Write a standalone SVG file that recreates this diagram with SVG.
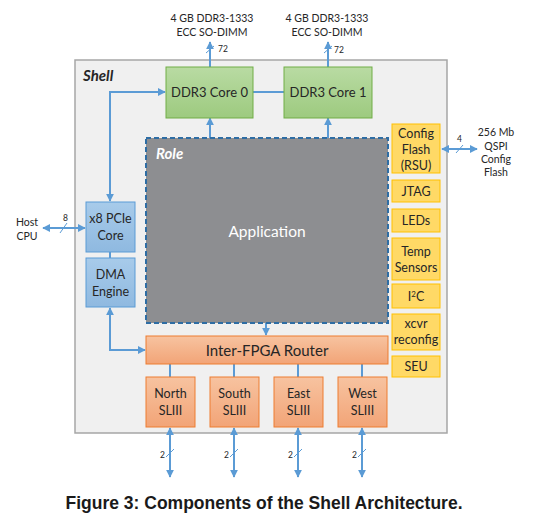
<svg xmlns="http://www.w3.org/2000/svg" width="535" height="523" viewBox="0 0 535 523">
<style>
text{font-family:Lato,"Open Sans","Liberation Sans",sans-serif;fill:#262626}
.c{text-anchor:middle}
.lbl{font-size:10.5px}
.sm{font-size:8.5px}
.box{font-size:12.5px}
.g{fill:#a9d18e;stroke:#70ad47;stroke-width:1}
.b{fill:#9dc3e6;stroke:#5b9bd5;stroke-width:1}
.o{fill:#f4b183;stroke:#ed7d31;stroke-width:1}
.y{fill:#ffd966;stroke:#ffc000;stroke-width:1}
.ln{stroke:#5b9bd5;stroke-width:2;fill:none}
.sl{stroke:#5b9bd5;stroke-width:1}
</style>
<defs>
<marker id="ah" viewBox="0 0 10 10" refX="9" refY="5" markerWidth="4" markerHeight="4" orient="auto-start-reverse" markerUnits="strokeWidth">
<path d="M0,0 L10,5 L0,10 z" fill="#5b9bd5"/>
</marker>
<linearGradient id="gg" x1="0" y1="0" x2="0" y2="1"><stop offset="0" stop-color="#b9dba3"/><stop offset="1" stop-color="#9dca7f"/></linearGradient>
<linearGradient id="bg" x1="0" y1="0" x2="0" y2="1"><stop offset="0" stop-color="#a8cbea"/><stop offset="1" stop-color="#8fb9e0"/></linearGradient>
<linearGradient id="og" x1="0" y1="0" x2="0" y2="1"><stop offset="0" stop-color="#f7c3a0"/><stop offset="1" stop-color="#f2a477"/></linearGradient>
</defs>
<rect width="535" height="523" fill="#ffffff"/>
<g id="shell">
<rect x="75" y="60" width="372" height="373" fill="#f0f0f0" stroke="#a6a6a6" stroke-width="1.5"/>
<text x="83" y="81" style="font-size:15px;font-weight:bold;font-style:italic">Shell</text>
</g>
<g id="connectors">
<line class="ln" x1="210" y1="67" x2="210" y2="42" marker-end="url(#ah)"/>
<line class="sl" x1="206" y1="53" x2="214" y2="46"/>
<text x="218" y="52" class="sm">72</text>
<line class="ln" x1="328" y1="67" x2="328" y2="42" marker-end="url(#ah)"/>
<line class="sl" x1="324" y1="53" x2="332" y2="46"/>
<text x="334" y="53" class="sm">72</text>
<line class="ln" x1="253" y1="92" x2="284" y2="92"/>
<polyline class="ln" points="110,201 110,92 165,92" marker-start="url(#ah)" marker-end="url(#ah)"/>
<line class="ln" x1="210" y1="150" x2="210" y2="118" marker-start="url(#ah)" marker-end="url(#ah)"/>
<line class="ln" x1="328" y1="150" x2="328" y2="118" marker-start="url(#ah)" marker-end="url(#ah)"/>
<line class="ln" x1="43" y1="228" x2="85" y2="228" marker-start="url(#ah)" marker-end="url(#ah)"/>
<line class="sl" x1="60" y1="233" x2="67" y2="223"/>
<text x="63" y="221" class="sm">8</text>
<line class="ln" x1="110" y1="252" x2="110" y2="258"/>
<polyline class="ln" points="110,308 110,350 145,350" marker-start="url(#ah)" marker-end="url(#ah)"/>
<line class="ln" x1="266" y1="304" x2="266" y2="335" marker-start="url(#ah)" marker-end="url(#ah)"/>
<line class="ln" x1="170" y1="364" x2="170" y2="377"/>
<line class="ln" x1="234" y1="364" x2="234" y2="377"/>
<line class="ln" x1="298" y1="364" x2="298" y2="377"/>
<line class="ln" x1="362" y1="364" x2="362" y2="377"/>
<line class="ln" x1="170" y1="428" x2="170" y2="477" marker-start="url(#ah)" marker-end="url(#ah)"/>
<line class="ln" x1="234" y1="428" x2="234" y2="477" marker-start="url(#ah)" marker-end="url(#ah)"/>
<line class="ln" x1="298" y1="428" x2="298" y2="477" marker-start="url(#ah)" marker-end="url(#ah)"/>
<line class="ln" x1="362" y1="428" x2="362" y2="477" marker-start="url(#ah)" marker-end="url(#ah)"/>
<line class="sl" x1="166" y1="457" x2="174" y2="449"/>
<line class="sl" x1="230" y1="457" x2="238" y2="449"/>
<line class="sl" x1="294" y1="457" x2="302" y2="449"/>
<line class="sl" x1="358" y1="457" x2="366" y2="449"/>
<text x="160" y="458" class="sm">2</text>
<text x="224" y="458" class="sm">2</text>
<text x="288" y="458" class="sm">2</text>
<text x="352" y="458" class="sm">2</text>
<line class="ln" x1="442" y1="149" x2="477" y2="149" marker-start="url(#ah)" marker-end="url(#ah)"/>
<line class="sl" x1="456" y1="153" x2="463" y2="145"/>
<text x="457" y="142" class="sm">4</text>
</g>
<g id="mem0"><text x="212" y="22" class="lbl c">4 GB DDR3-1333</text><text x="212" y="36" class="lbl c">ECC SO-DIMM</text></g>
<g id="mem1"><text x="327" y="22" class="lbl c">4 GB DDR3-1333</text><text x="327" y="36" class="lbl c">ECC SO-DIMM</text></g>
<g id="ddr0"><rect x="166" y="67" width="87" height="51" fill="url(#gg)" stroke="#70ad47"/><text x="209.5" y="97" class="c" style="font-size:13px">DDR3 Core 0</text></g>
<g id="ddr1"><rect x="284" y="67" width="88" height="51" fill="url(#gg)" stroke="#70ad47"/><text x="328" y="97" class="c" style="font-size:13px">DDR3 Core 1</text></g>
<g id="role">
<rect x="146" y="138" width="242" height="185" fill="#8d8e91" stroke="#2e6da4" stroke-width="2" stroke-dasharray="5,3"/>
<text x="156" y="159" style="font-size:15px;font-weight:bold;font-style:italic;fill:#ffffff">Role</text>
<text x="267" y="237" class="c" style="font-size:15.5px;fill:#ffffff">Application</text>
</g>
<g id="host"><text x="27" y="226" class="lbl c">Host</text><text x="27" y="240" class="lbl c">CPU</text></g>
<g id="pcie"><rect x="86" y="202" width="49" height="50" fill="url(#bg)" stroke="#5b9bd5"/><text x="110.5" y="223" class="box c">x8 PCIe</text><text x="110.5" y="240" class="box c">Core</text></g>
<g id="dma"><rect x="86" y="258" width="49" height="49" fill="url(#bg)" stroke="#5b9bd5"/><text x="110.5" y="279" class="box c">DMA</text><text x="110.5" y="296" class="box c">Engine</text></g>
<g id="router"><rect x="146" y="336" width="242" height="28" fill="url(#og)" stroke="#ed7d31"/><text x="267" y="356" class="c" style="font-size:15px">Inter-FPGA Router</text></g>
<g id="north"><rect x="146" y="377" width="49" height="50" fill="url(#og)" stroke="#ed7d31"/><text x="170.5" y="398" class="box c">North</text><text x="170.5" y="415" class="box c">SLIII</text></g>
<g id="south"><rect x="210" y="377" width="49" height="50" fill="url(#og)" stroke="#ed7d31"/><text x="234.5" y="398" class="box c">South</text><text x="234.5" y="415" class="box c">SLIII</text></g>
<g id="east"><rect x="274" y="377" width="49" height="50" fill="url(#og)" stroke="#ed7d31"/><text x="298.5" y="398" class="box c">East</text><text x="298.5" y="415" class="box c">SLIII</text></g>
<g id="west"><rect x="338" y="377" width="49" height="50" fill="url(#og)" stroke="#ed7d31"/><text x="362.5" y="398" class="box c">West</text><text x="362.5" y="415" class="box c">SLIII</text></g>
<g id="cfgflash"><rect x="392" y="124" width="48" height="49" class="y"/><text x="416" y="138" class="box c">Config</text><text x="416" y="154" class="box c">Flash</text><text x="416" y="170" class="box c">(RSU)</text></g>
<g id="jtag"><rect x="392" y="180" width="48" height="22" class="y"/><text x="416" y="195.5" class="box c">JTAG</text></g>
<g id="leds"><rect x="392" y="209" width="48" height="23" class="y"/><text x="416" y="225" class="box c">LEDs</text></g>
<g id="temp"><rect x="392" y="238" width="48" height="42" class="y"/><text x="416" y="256" class="box c">Temp</text><text x="416" y="272" class="box c">Sensors</text></g>
<g id="i2c"><rect x="392" y="284" width="48" height="24" class="y"/><text x="416" y="300.5" class="box c">I<tspan style="font-size:8px" dy="-4">2</tspan><tspan dy="4">C</tspan></text></g>
<g id="xcvr"><rect x="392" y="314" width="48" height="36" class="y"/><text x="416" y="328" class="box c">xcvr</text><text x="416" y="344" class="box c">reconfig</text></g>
<g id="seu"><rect x="392" y="356" width="48" height="21" class="y"/><text x="416" y="371" class="box c">SEU</text></g>
<g id="qspi"><text x="496" y="136" class="lbl c">256 Mb</text><text x="496" y="150" class="lbl c">QSPI</text><text x="496" y="163" class="lbl c">Config</text><text x="496" y="176" class="lbl c">Flash</text></g>
<g id="caption"><text x="264" y="509" class="c" style="font-family:'Liberation Sans',Arial,sans-serif;font-size:17.5px;font-weight:bold;fill:#1a1a1a">Figure 3: Components of the Shell Architecture.</text></g>
</svg>
